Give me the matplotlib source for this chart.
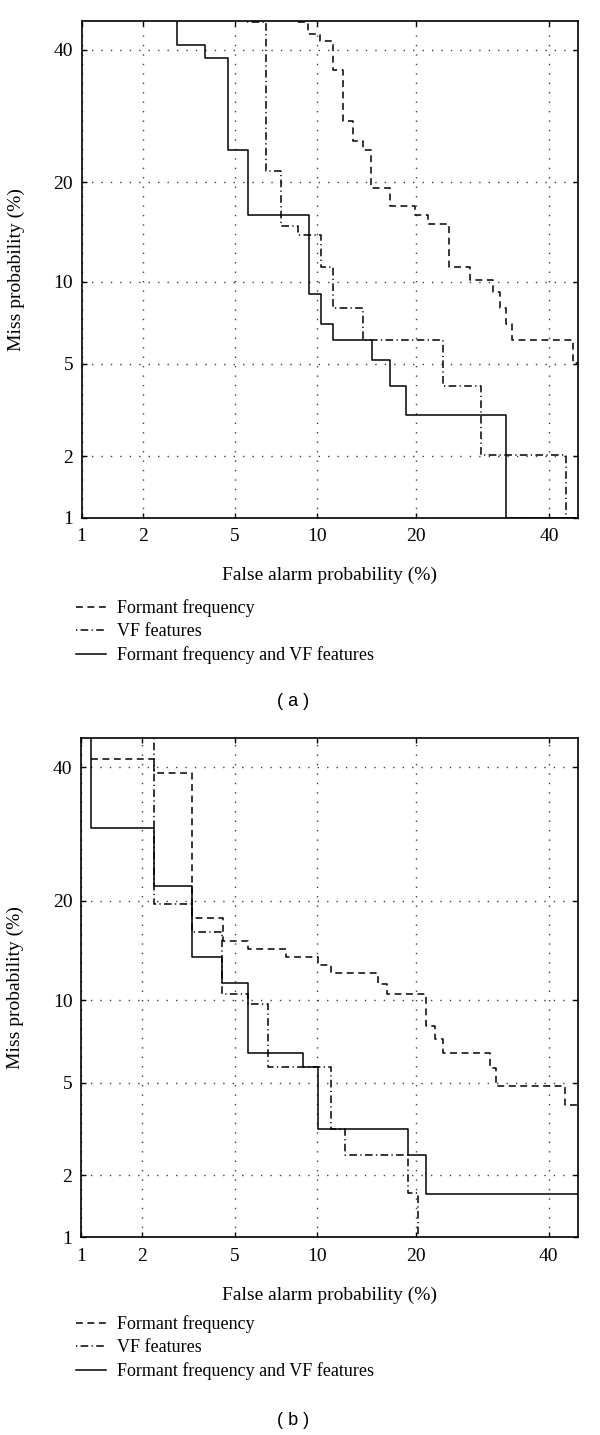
import math
import numpy as np
import matplotlib
matplotlib.use('Agg')
import matplotlib.pyplot as plt

plt.rcParams['font.family'] = ['Liberation Serif', 'DejaVu Serif']

ticks = [1, 2, 5, 10, 20, 40]
tickLabels = ['1', '2', '5', '10', '20', '40']
legendNames = ['Formant frequency', 'VF features', 'Formant frequency and VF features']

# panel (a): false alarm (%) / miss (%) at each step of the DET curves
formantFaA = [8.59, 9.31, 10.2, 11.3, 12.16, 13.08, 14.1, 14.9, 16.86, 19.8, 21.5, 24.3,
              27.25, 30.8, 31.85, 32.9, 33.8, 44.15, 45]
formantMissA = [44.7, 42.6, 41.45, 36.6, 28.5, 25.5, 24.3, 19.3, 17.2, 16.25, 15.2, 11.2,
                10.15, 9.2, 8.09, 7.07, 6.17, 5.05, 5.05]
vfFaA = [5.59, 6.6, 7.5, 8.59, 10.28, 11.3, 14.1, 23.5, 29.0, 43.0, 45]
vfMissA = [44.8, 21.4, 15.07, 14.15, 11.16, 8.09, 6.17, 4.08, 2.03, 1.0, 1.0]
bothFaA = [2.86, 2.86, 3.77, 4.67, 5.64, 9.39, 10.3, 11.3, 14.96, 16.86, 18.78, 32.8, 45]
bothMissA = [45, 40.75, 38.56, 24.3, 16.2, 9.1, 7.08, 6.17, 5.16, 4.08, 3.05, 1.0, 1.0]

# panel (b)
formantFaB = [1.13, 2.26, 3.34, 4.5, 5.62, 7.8, 10.11, 11.12, 15.6, 16.6, 21.3, 22.4,
              23.5, 30.3, 31.25, 42.7, 45]
formantMissB = [41.4, 39.07, 17.9, 15.43, 14.56, 13.75, 13.04, 12.25, 11.3, 10.5, 8.16, 7.3,
                6.53, 5.72, 4.85, 4.08, 4.08]
vfFaB = [2.26, 2.26, 3.34, 4.47, 5.62, 6.73, 11.15, 12.37, 19.04, 20.25]
vfMissB = [45, 19.6, 16.33, 10.5, 9.71, 5.75, 3.24, 2.47, 1.66, 1.0]
bothFaB = [1.13, 1.13, 2.26, 3.34, 4.47, 5.62, 8.95, 10.09, 19.04, 21.3, 45]
bothMissB = [45, 30.1, 21.9, 13.75, 11.4, 6.53, 5.75, 3.24, 2.47, 1.64, 1.64]

# normal deviate scale (probit), no scipy here
zgrid = np.linspace(-6, 6, 40001)
erfv = np.vectorize(math.erf, otypes=[float])
pgrid = 0.5 * (1 + erfv(zgrid / math.sqrt(2)))


def paraZ(x):
    p = np.clip(np.asarray(x, dtype=float) / 100.0, 1e-9, 1 - 1e-9)
    return np.interp(p, pgrid, zgrid)


def deZ(z):
    return 100.0 * 0.5 * (1 + erfv(np.asarray(z, dtype=float) / math.sqrt(2)))


estilos = [
    dict(linestyle=(0, (4.5, 3.0))),
    dict(linestyle=(0, (0.8, 2.2, 5.0, 2.2))),
    dict(linestyle='-'),
]

fig = plt.figure(figsize=(6, 14.35), dpi=100)
W, H = 600.0, 1435.0


def painel(caixa, curvas, topoLegenda, centroLetra, letra):
    x0, y0, x1, y1 = caixa
    ax = fig.add_axes([x0 / W, 1 - y1 / H, (x1 - x0) / W, (y1 - y0) / H])
    for (fa, miss), estilo, nome in zip(curvas, estilos, legendNames):
        ax.plot(fa, miss, drawstyle='steps-post', color='k', lw=1.1, label=nome, **estilo)
    ax.set_xscale('function', functions=(paraZ, deZ))
    ax.set_yscale('function', functions=(paraZ, deZ))
    ax.set_xlim(1, 45)
    ax.set_ylim(1, 45)
    ax.set_xticks(ticks)
    ax.set_xticklabels(tickLabels)
    ax.set_yticks(ticks)
    ax.set_yticklabels(tickLabels)
    ax.minorticks_off()
    ax.tick_params(axis='both', direction='in', length=3.5, width=1.0, top=True, right=True,
                   labelsize=14, colors='k')
    ax.tick_params(axis='x', pad=7.4)
    ax.tick_params(axis='y', pad=6)
    ax.grid(True, color='0.25', lw=1.0, linestyle=(0, (1, 5.8)))
    for s in ax.spines.values():
        s.set_linewidth(1.2)
    ax.set_xlabel('False alarm probability (%)', fontsize=14)
    ax.set_ylabel('Miss probability (%)', fontsize=14)
    ax.xaxis.set_label_coords(0.5, -0.099)
    ax.yaxis.set_label_coords(-0.114, 0.5)
    ax.legend(loc='upper left', bbox_to_anchor=(76 / W, 1 - topoLegenda / H),
              bbox_transform=fig.transFigure, frameon=False, fontsize=13,
              handlelength=1.66, handletextpad=0.59, labelspacing=0.34,
              borderpad=0, borderaxespad=0)
    fig.text(centroLetra[0] / W, 1 - centroLetra[1] / H, letra, ha='center', va='center',
             fontsize=13, family=['Liberation Sans', 'DejaVu Sans'])
    return ax


painel((81.5, 20.7, 577.7, 517.7),
       [(formantFaA, formantMissA), (vfFaA, vfMissA), (bothFaA, bothMissA)],
       599, (292.7, 701.7), '( a )')
painel((80.7, 738.3, 577.7, 1237.3),
       [(formantFaB, formantMissB), (vfFaB, vfMissB), (bothFaB, bothMissB)],
       1315, (292.7, 1420.7), '( b )')

fig.savefig('out.png', dpi=100)
